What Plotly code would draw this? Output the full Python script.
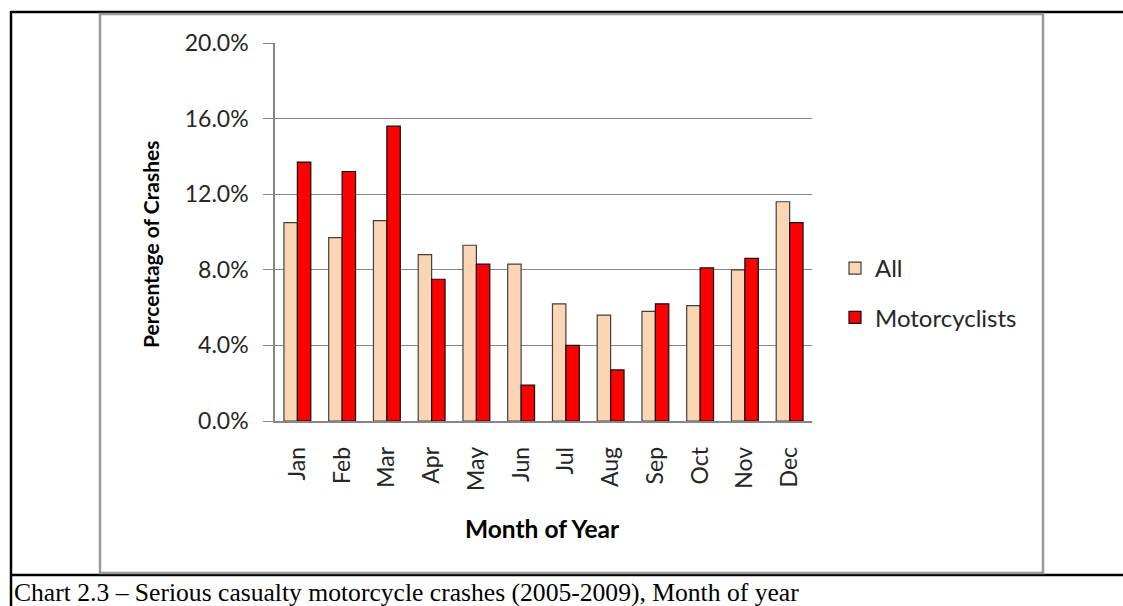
import plotly.graph_objects as go

# Monthly share of serious casualty crashes, 2005-2009
months = ["Jan", "Feb", "Mar", "Apr", "May", "Jun",
          "Jul", "Aug", "Sep", "Oct", "Nov", "Dec"]
all_crashes = [10.5, 9.7, 10.6, 8.8, 9.3, 8.3, 6.2, 5.6, 5.8, 6.1, 8.0, 11.6]
motorcyclists = [13.7, 13.2, 15.6, 7.5, 8.3, 1.9, 4.0, 2.7, 6.2, 8.1, 8.6, 10.5]
y_ticks = [0.0, 0.04, 0.08, 0.12, 0.16, 0.20]

W, H = 1123, 606
L, R, T, B = 275, 812, 43, 421  # plot area in pixels


def px(x):
    return (x - L) / (R - L)


def py(y):
    return (B - y) / (B - T)


FONT = "Lato"
GRID = "#868686"
TEXT = "#262626"

fig = go.Figure()
fig.add_bar(
    x=months, y=[v / 100 for v in all_crashes], name="All",
    marker=dict(color="#FCD5B5", line=dict(color="#404040", width=1.2)),
    legendgroup="a",
)
fig.add_bar(
    x=months, y=[v / 100 for v in motorcyclists], name="Motorcyclists",
    marker=dict(color="#FF0000", line=dict(color="#101010", width=1.2)),
    legendgroup="b",
)

frame = dict(xref="paper", yref="paper", layer="above")
shapes = [
    # outer frame (black)
    dict(type="line", x0=px(11), x1=px(W + 2), y0=py(12), y1=py(12),
         line=dict(color="black", width=2.5), **frame),
    dict(type="line", x0=px(11), x1=px(11), y0=py(11), y1=py(H + 2),
         line=dict(color="black", width=2.5), **frame),
    dict(type="line", x0=px(11), x1=px(W + 2), y0=py(575), y1=py(575),
         line=dict(color="black", width=2.5), **frame),
    # chart area border (grey)
    dict(type="rect", x0=px(100), x1=px(1043), y0=py(14), y1=py(573),
         line=dict(color="#999999", width=2.5), **frame),
]

fig.update_layout(
    width=W, height=H,
    margin=dict(l=L, r=W - R, t=T, b=H - B),
    paper_bgcolor="white", plot_bgcolor="white",
    barmode="group", bargap=0.40, bargroupgap=0.0,
    font=dict(family=FONT, size=22, color=TEXT),
    showlegend=True,
    legend=dict(
        x=px(835), y=py(246), xanchor="left", yanchor="top",
        font=dict(family=FONT, size=24, color=TEXT),
        tracegroupgap=15, traceorder="grouped",
        itemwidth=30, bgcolor="rgba(0,0,0,0)",
    ),
    xaxis=dict(
        showline=True, linecolor=GRID, linewidth=1.5,
        ticks="", tickangle=-90, ticklabelstandoff=15,
        tickfont=dict(family=FONT, size=23, color=TEXT),
        showgrid=False, zeroline=False,
    ),
    yaxis=dict(
        range=[0, 0.20], tickvals=y_ticks, tickformat=".1%",
        showline=True, linecolor=GRID, linewidth=1.5,
        ticks="outside", ticklen=10, tickcolor=GRID,
        ticklabelstandoff=10,
        tickfont=dict(family=FONT, size=23, color=TEXT),
        showgrid=True, gridcolor=GRID, gridwidth=1.2,
        zeroline=False,
    ),
    shapes=shapes,
    annotations=[
        dict(text="<b>Percentage of Crashes</b>", x=px(150), y=py(244),
             xref="paper", yref="paper", xanchor="center", yanchor="middle",
             showarrow=False, textangle=-90,
             font=dict(family=FONT, size=21, color="black")),
        dict(text="<b>Month of Year</b>", x=px(542), y=py(528),
             xref="paper", yref="paper", xanchor="center", yanchor="middle",
             showarrow=False,
             font=dict(family=FONT, size=24.5, color="black")),
        dict(text="Chart 2.3 – Serious casualty motorcycle crashes (2005-2009), Month of year",
             x=px(12), y=py(592), xref="paper", yref="paper",
             xanchor="left", yanchor="middle", showarrow=False,
             font=dict(family="Liberation Serif", size=25.6, color="black")),
    ],
)

fig.write_html("out.html")
